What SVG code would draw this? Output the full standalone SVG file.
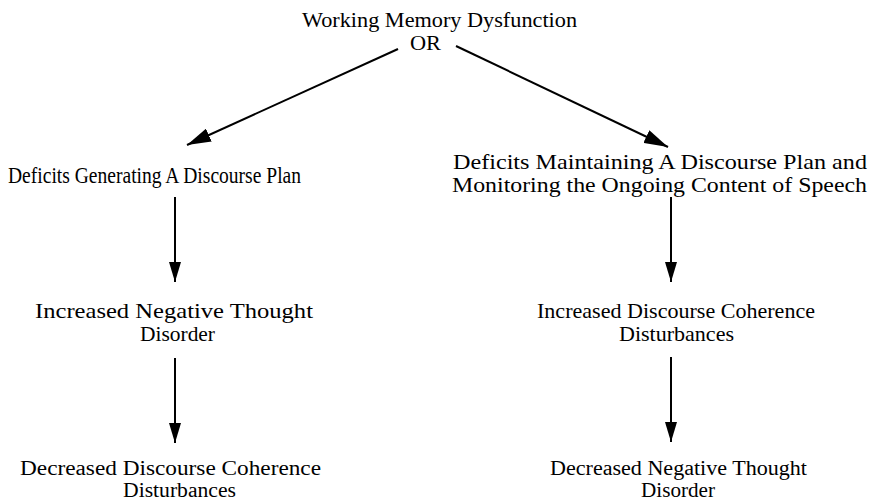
<svg xmlns="http://www.w3.org/2000/svg" width="870" height="502" viewBox="0 0 870 502">
<style>
text{font-family:"Liberation Serif","Times New Roman",serif;font-size:21px;fill:#000}
.s{font-size:20px}
.b{font-size:23px}
.c line{stroke:#000;stroke-width:2}
.d{stroke-width:3}
</style>
<defs>
<marker id="ah" viewBox="0 0 20 12" refX="20" refY="6" markerWidth="20" markerHeight="12" markerUnits="userSpaceOnUse" orient="auto">
<path d="M0,0 L20,6 L0,12 Z" fill="#000"/>
</marker>
<marker id="ahd" viewBox="0 0 24 14" refX="24" refY="7" markerWidth="24" markerHeight="14" markerUnits="userSpaceOnUse" orient="auto">
<path d="M0,0 L24,7 L0,14 Z" fill="#000"/>
</marker>
</defs>
<rect width="870" height="502" fill="#fff"/>
<g id="top">
<text x="302" y="27" textLength="275" lengthAdjust="spacingAndGlyphs">Working Memory Dysfunction</text>
<text x="410" y="50" textLength="31" lengthAdjust="spacingAndGlyphs">OR</text>
</g>
<g id="left1">
<text class="b" x="8" y="183" textLength="293" lengthAdjust="spacingAndGlyphs">Deficits Generating A Discourse Plan</text>
</g>
<g id="right1">
<text x="453" y="169" textLength="414" lengthAdjust="spacingAndGlyphs">Deficits Maintaining A Discourse Plan and</text>
<text x="452" y="192" textLength="415" lengthAdjust="spacingAndGlyphs">Monitoring the Ongoing Content of Speech</text>
</g>
<g id="left2">
<text x="35" y="318" textLength="278" lengthAdjust="spacingAndGlyphs">Increased Negative Thought</text>
<text x="140" y="341" textLength="75" lengthAdjust="spacingAndGlyphs">Disorder</text>
</g>
<g id="right2">
<text x="537" y="318" textLength="278" lengthAdjust="spacingAndGlyphs">Increased Discourse Coherence</text>
<text x="619" y="341" textLength="115" lengthAdjust="spacingAndGlyphs">Disturbances</text>
</g>
<g id="left3">
<text class="s" x="20" y="475" textLength="301" lengthAdjust="spacingAndGlyphs">Decreased Discourse Coherence</text>
<text class="s" x="123" y="497" textLength="113" lengthAdjust="spacingAndGlyphs">Disturbances</text>
</g>
<g id="right3">
<text class="s" x="550" y="475" textLength="257" lengthAdjust="spacingAndGlyphs">Decreased Negative Thought</text>
<text class="s" x="641" y="497" textLength="74" lengthAdjust="spacingAndGlyphs">Disorder</text>
</g>
<g class="c" id="connectors">
<line class="d" x1="398" y1="49" x2="187" y2="145" marker-end="url(#ahd)"/>
<line class="d" x1="456" y1="46" x2="668" y2="147" marker-end="url(#ahd)"/>
<line x1="175" y1="197" x2="175" y2="282" marker-end="url(#ah)"/>
<line x1="671" y1="197" x2="671" y2="282" marker-end="url(#ah)"/>
<line x1="175" y1="358" x2="175" y2="443" marker-end="url(#ah)"/>
<line x1="671" y1="357" x2="671" y2="442" marker-end="url(#ah)"/>
</g>
</svg>
